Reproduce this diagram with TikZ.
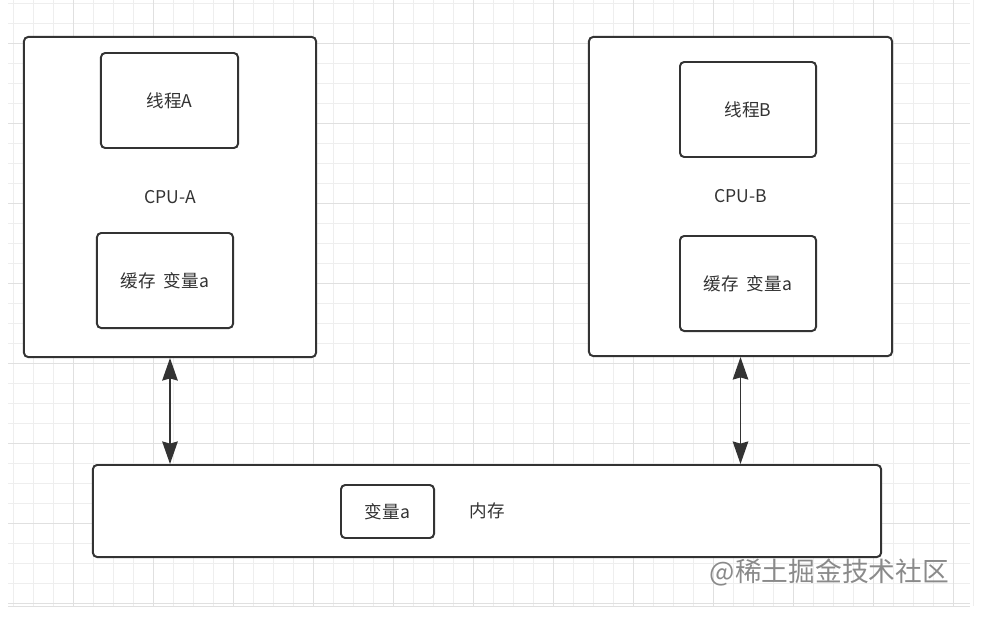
\documentclass[tikz,border=0pt]{standalone}
\usepackage{fontspec}
\setmainfont{Noto Sans CJK SC}
\usepackage{tikz}
\usetikzlibrary{
  arrows.meta,
  positioning,
  calc
}
\usepackage{xcolor}
\definecolor{boxline}{HTML}{333333}
\definecolor{textgray}{HTML}{333333}
\definecolor{gridgray}{HTML}{E0E0E0}
\definecolor{gridfaint}{HTML}{EEEEEE}
\definecolor{markgray}{HTML}{8A8A8A}
\tikzset{
  cpubox/.style={
    rectangle, draw=boxline, fill=white, rounded corners=3pt,
    minimum width=7.3cm, minimum height=8cm,
    font=\fontsize{12.5}{15}\selectfont, text=textgray, line width=1.4pt
  },
  unitbox/.style={
    rectangle, draw=boxline, fill=white, rounded corners=3pt,
    minimum width=3.4cm, minimum height=2.375cm,
    font=\fontsize{12.5}{15}\selectfont, text=textgray, line width=1.4pt
  },
  membox/.style={
    rectangle, draw=boxline, fill=white, rounded corners=3pt,
    minimum width=19.7cm, minimum height=2.3cm,
    font=\fontsize{12.5}{15}\selectfont, text=textgray, line width=1.4pt
  },
  busarrow/.style={{Stealth[length=16pt, width=11pt, inset=1.5pt]}-{Stealth[length=16pt, width=11pt, inset=1.5pt]}, draw=boxline, line width=1.4pt},
  gridline/.style={draw=gridgray, line width=0.7pt},
  gridfine/.style={draw=gridfaint, line width=0.6pt},
}

\begin{document}
\begin{tikzpicture}[x=0.025cm, y=-0.025cm]

\useasboundingbox[fill=white] (0,0) rectangle (993,619);

% Background grid
\foreach \gx in {13,33,...,973} \draw[gridfine] (\gx,0) -- (\gx,606);
\foreach \gy in {3,23,...,603} \draw[gridfine] (8,\gy) -- (970,\gy);
\foreach \gx in {73,153,...,953} \draw[gridline] (\gx,0) -- (\gx,606);
\foreach \gy in {43,123,...,603} \draw[gridline] (8,\gy) -- (970,\gy);
\draw[gridline] (8,606) -- (970,606);

% CPU A
\node[cpubox] (cpuA) at (170,197) {CPU-A};
\node[unitbox, minimum width=3.425cm] (thrA) at (169.5,100.5) {线程A};
\node[unitbox] (cacheA) at (165,280.5) {缓存\ \ 变量a};

% CPU B
\node[cpubox, minimum width=7.575cm, minimum height=7.975cm] (cpuB) at (740.5,196.5) {CPU-B};
\node[unitbox] (thrB) at (748,109.5) {线程B};
\node[unitbox] (cacheB) at (748,283.5) {缓存\ \ 变量a};

% Main memory
\node[membox] (mem) at (487,511) {内存};
\node[unitbox, minimum width=2.325cm, minimum height=1.325cm] (varA) at (387.5,511.5) {变量a};

% Bus
\draw[busarrow] (cpuA.south) -- (cpuA.south |- mem.north);
\draw[busarrow] (cpuB.south) -- (cpuB.south |- mem.north);

% Watermark
\node[font=\fontsize{19}{22}\selectfont, text=markgray, anchor=west] (mark) at (705,572) {@稀土掘金技术社区};

\end{tikzpicture}
\end{document}
